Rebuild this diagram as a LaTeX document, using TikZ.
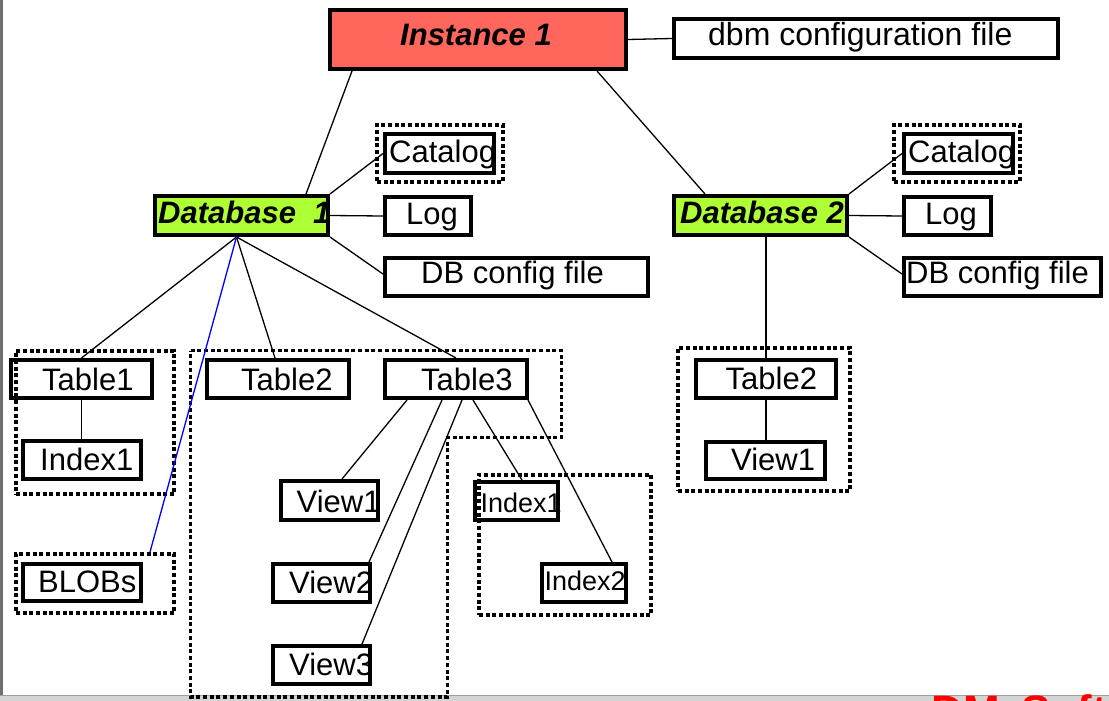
\documentclass[tikz,border=0pt]{standalone}
\usepackage{fontspec}
\setmainfont{Liberation Sans}
\usepackage{graphicx}
\usetikzlibrary{calc}
\definecolor{instred}{RGB}{255,102,92}
\definecolor{dbgreen}{RGB}{174,255,51}
\definecolor{leftbar}{RGB}{112,112,112}
\definecolor{botbar}{RGB}{212,212,212}
\definecolor{botline}{RGB}{160,160,160}
\tikzset{
  box/.style={draw, line width=4pt, inner sep=0pt, rectangle},
  grp/.style={draw, line width=3.7pt, dash pattern=on 4pt off 2.7pt, inner sep=0pt, rectangle},
  con/.style={line width=1.3pt},
  txt/.style={inner sep=0pt, anchor=base west, font=\fontsize{31}{31}\selectfont},
  stxt/.style={inner sep=0pt, anchor=base west, font=\fontsize{27}{27}\selectfont},
  btxt/.style={inner sep=0pt, anchor=base west, font=\fontsize{31}{31}\selectfont\bfseries\itshape},
}
% solid box from outer corners (x1,y1)-(x2,y2)
\newcommand\mkbox[6]{\node[box,#6, minimum width={#4-#2-4}, minimum height={#5-#3-4}] (#1) at ({(#2+#4)/2},{(#3+#5)/2}) {};}
% dotted group from outer corners
\newcommand\mkgrp[5]{\node[grp, minimum width={#4-#2-3.7}, minimum height={#5-#3-3.7}] (#1) at ({(#2+#4)/2},{(#3+#5)/2}) {};}
\begin{document}
\begin{tikzpicture}[x=1pt,y=-1pt]
\useasboundingbox (0,0) rectangle (1109,701);
\fill[white] (0,0) rectangle (1109,701);
% window frame
\fill[leftbar] (0,0) rectangle (3,695);
\fill[botbar] (0,695) rectangle (1109,701);
\draw[botline, line width=1pt] (0,695.5) -- (1109,695.5);

% dotted groups
\mkgrp{gcat1}{375}{123}{505}{184}
\mkgrp{gcat2}{892}{123}{1022}{184}
\mkgrp{gt1}{14}{349}{176}{496}
\mkgrp{gblob}{14}{552}{176}{615}
\mkgrp{gix}{477}{473}{653}{617}
\mkgrp{gdt}{676}{346}{852}{493}
\draw[grp] (190.5,350.5) -- (561.5,350.5) -- (561.5,437.5) -- (447.5,437.5) -- (447.5,697) -- (190.5,697) -- cycle;

% boxes
\mkbox{inst}{328}{8}{628}{71}{fill=instred}
\mkbox{dbm}{672}{17}{1060}{60}{}
\mkbox{db1}{153}{194}{330}{237}{fill=dbgreen}
\mkbox{db2}{672}{194}{849}{237}{fill=dbgreen}
\mkbox{cat1}{383}{132}{496}{175}{}
\mkbox{cat2}{902}{132}{1015}{175}{}
\mkbox{log1}{383}{195}{473}{237}{}
\mkbox{log2}{902}{195}{993}{237}{}
\mkbox{cfg1}{383}{256}{650}{298}{}
\mkbox{cfg2}{902}{256}{1103}{298}{}
\mkbox{t1}{9}{358}{154}{400}{}
\mkbox{ix1}{21}{439}{143}{481}{}
\mkbox{blob}{21}{562}{143}{603}{}
\mkbox{t2}{205}{358}{351}{400}{}
\mkbox{t3}{383}{358}{529}{400}{}
\mkbox{v1}{279}{479}{380}{522}{}
\mkbox{v2}{271}{562}{372}{604}{}
\mkbox{v3}{271}{644}{372}{686}{}
\mkbox{ixa}{473}{480}{560}{522}{}
\mkbox{ixb}{540}{562}{628}{604}{}
\mkbox{dt2}{694}{358}{838}{400}{}
\mkbox{dv1}{704}{440}{827}{481}{}

% connectors
\draw[con] (inst.east) -- (dbm.west);
\draw[con] ([xshift=24pt]inst.south west) -- ([xshift=153pt]db1.north west);
\draw[con] ([xshift=-31pt]inst.south east) -- ([xshift=33pt]db2.north west);
\draw[con] (db1.north east) -- (cat1.west);
\draw[con] (db1.east) -- (log1.west);
\draw[con] (db1.south east) -- ([yshift=3pt]cfg1.west);
\draw[con] (db2.north east) -- (cat2.west);
\draw[con] (db2.east) -- (log2.west);
\draw[con] (db2.south east) -- ([yshift=3pt]cfg2.west);
\draw[con] (db2.south -| dt2.north) -- (dt2.north);
\coordinate (hub) at ([xshift=-5pt]db1.south);
\draw[con] (hub) -- (t1.north);
\draw[con] (hub) -- ([xshift=-3pt]t2.north);
\draw[con] (hub) -- (t3.north);
\draw[con, blue] (hub) -- ([xshift=-26pt]gblob.north east);
\draw[con] (t1.south) -- (t1.south |- ix1.north);
\draw[con] ([xshift=24pt]t3.south west) -- ([xshift=12.5pt]v1.north);
\draw[con] ([xshift=59pt]t3.south west) -- ([xshift=-3pt]v2.north east);
\draw[con] ([xshift=79pt]t3.south west) -- ([xshift=-10pt]v3.north east);
\draw[con] ([xshift=90pt]t3.south west) -- ([xshift=5.5pt]ixa.north);
\draw[con] ([xshift=-1pt]t3.south east) -- ([xshift=-16pt]ixb.north east);
\draw[con] (dt2.south) -- (dt2.south |- dv1.north);

% texts
\node[btxt] (tinst) at (400,46) {Instance 1};
\node[txt, font=\fontsize{32}{32}\selectfont] (tdbm) at (708,46) {dbm configuration file};
\begin{scope}
\clip (db1.north west) rectangle (db1.south east);
\node[btxt] (tdb1) at (158,223) {Database\ \ 1};
\end{scope}
\begin{scope}
\clip (db2.north west) rectangle (db2.south east);
\node[btxt] (tdb2) at (680,223) {Database 2};
\end{scope}
\node[txt] (tcat1) at (389,162) {Catalog};
\node[txt] (tcat2) at (908,162) {Catalog};
\node[txt] (tlog1) at (406,224) {Log};
\node[txt] (tlog2) at (925,224) {Log};
\node[txt] (tcfg1) at (421,283) {DB config file};
\node[txt] (tcfg2) at (906,283) {DB config file};
\node[txt] (tt1) at (42,390) {Table1};
\node[txt] (tix1) at (40,470) {Index1};
\node[txt] (tblob) at (38,592) {BLOBs};
\node[txt] (tt2) at (241,390) {Table2};
\node[txt] (tt3) at (421,390) {Table3};
\node[txt] (tv1) at (296.5,512) {View1};
\node[txt] (tv2) at (289,593) {View2};
\node[txt] (tv3) at (289,675) {View3};
\node[stxt] (tixa) at (480.5,512) {Index1};
\node[stxt] (tixb) at (544.5,590) {Index2};
\node[txt] (tdt2) at (725.5,389) {Table2};
\node[txt] (tdv1) at (731,470) {View1};

% cut-off red title at the bottom edge (only its top shows, as in the reference)
\begin{scope}
\clip (0,0) rectangle (1109,701);
\node[inner sep=0pt, anchor=base west, text=red, font=\fontsize{44}{44}\selectfont\bfseries] (ttitle) at (931.5,726) {DM\kern9pt{} Software};
\end{scope}
\end{tikzpicture}
\end{document}
